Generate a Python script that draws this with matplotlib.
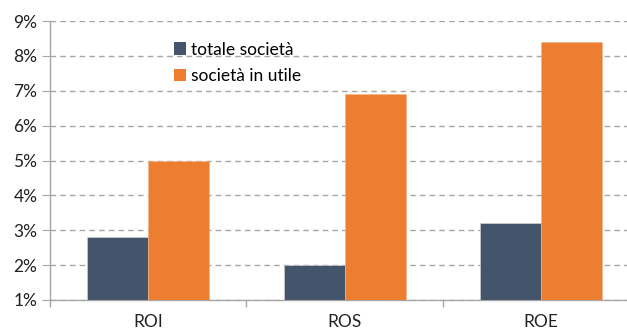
import matplotlib.pyplot as plt
import numpy as np
from matplotlib.ticker import FuncFormatter

plt.rcParams['font.family'] = ['Lato', 'DejaVu Sans']

categories = ['ROI', 'ROS', 'ROE']
totale = [2.8, 2.0, 3.2]
in_utile = [5.0, 6.9, 8.4]

W, H = 627, 331
fig = plt.figure(figsize=(W / 100, H / 100), dpi=100)
# plot area in pixels: left 50, right 639.5 (runs past the edge), top 21, bottom 300
ax = fig.add_axes([50 / W, (H - 300) / H, 589.5 / W, 279 / H])

x = np.arange(len(categories))
bw = 0.31
ax.bar(x - bw / 2, totale, bw, color='#44546A', label='totale società',
       edgecolor='#D9D9D9', linewidth=0.4, zorder=3)
ax.bar(x + bw / 2, in_utile, bw, color='#ED7D31', label='società in utile',
       edgecolor='#F4B183', linewidth=0.4, zorder=3)

ax.set_xlim(-0.5, 2.5)
ax.set_ylim(1, 9)
ax.set_yticks(range(1, 10))
ax.yaxis.set_major_formatter(FuncFormatter(lambda v, p: f'{v:.0f}%'))
ax.grid(axis='y', color='#A6A6A6', linestyle=(0, (4, 3)), linewidth=1, zorder=0)

ax.set_xticks(x)
ax.set_xticklabels(categories)
ax.set_xticks([-0.5, 0.5, 1.5], minor=True)
ax.tick_params(axis='x', which='major', length=0, pad=10, labelsize=12.5, colors='#222222')
ax.tick_params(axis='x', which='minor', length=5, color='#A6A6A6', width=1)
ax.tick_params(axis='y', length=6, color='#A6A6A6', pad=3, labelsize=12.5, colors='#222222')

for s in ['top', 'right']:
    ax.spines[s].set_visible(False)
for s in ['left', 'bottom']:
    ax.spines[s].set_color('#A6A6A6')
    ax.spines[s].set_linewidth(1)

leg = ax.legend(loc='upper left', bbox_to_anchor=(158 / W, (H - 26) / H),
                bbox_transform=fig.transFigure, frameon=False,
                handlelength=0.7, handleheight=0.7, handletextpad=0.3,
                labelspacing=0.6, fontsize=12.5)
for h in leg.legend_handles:
    h.set_edgecolor('none')

fig.savefig('out.png', dpi=100)
